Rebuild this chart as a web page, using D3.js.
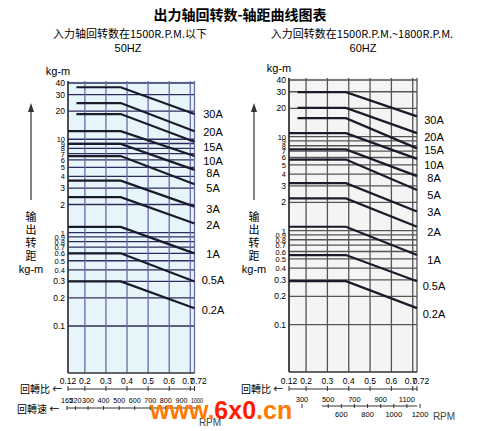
<!DOCTYPE html>
<html>
<head>
<meta charset="UTF-8" />
<script src="https://cdn.jsdelivr.net/npm/d3@7"></script>
<style>
  body { margin: 0; background: #fff; }
  text { font-family: "Liberation Sans", Arial, sans-serif; }
  .cjk { font-family: "Noto Sans CJK SC", sans-serif; }
</style>
</head>
<body>
<svg id="chart" width="480" height="431"></svg>
<script>
// data
const models = ["30A", "20A", "15A", "10A", "8A", "5A", "3A", "2A", "1A", "0.5A", "0.2A"];
const startRatio = [0.16, 0.16, 0.16, 0.12, 0.12, 0.12, 0.12, 0.12, 0.12, 0.12, 0.12];
const flat50 = [36, 24.4, 18.6, 12.2, 8.9, 6.6, 3.6, 2.4, 1.15, 0.6, 0.3];
const end50 = [18.6, 12.2, 9.4, 6.6, 4.7, 3.3, 1.9, 1.25, 0.6, 0.3, 0.155];
const flat60 = [29.7, 20.2, 15.7, 10.9, 7.3, 5.7, 3.2, 2.2, 1.1, 0.55, 0.29];
const end60 = [16.4, 10.9, 7.5, 5.8, 3.8, 2.7, 1.6, 1.1, 0.55, 0.29, 0.15];
const yTicks = [40, 30, 20, 10, 9, 8, 7, 6, 5, 4, 3, 2, 1, 0.9, 0.8, 0.7, 0.6, 0.5, 0.4, 0.3, 0.2, 0.1];
const ratioTicks = [0.12, 0.2, 0.3, 0.4, 0.5, 0.6, 0.7, 0.72];
const rpm50 = [165, 220, 300, 400, 500, 600, 700, 800, 900, 1000];
const rpm60Top = [300, 500, 700, 900, 1100];
const rpm60Bottom = [600, 800, 1000, 1200];

const svg = d3.select("#chart");

svg.append("text").attr("class", "cjk").attr("x", 240).attr("y", 20)
  .attr("text-anchor", "middle").attr("font-size", 14).attr("font-weight", "bold")
  .text("出力轴回转数-轴距曲线图表");

function panel(opt) {
  const x = d3.scaleLinear().domain([0.12, 0.72]).range([opt.x0, opt.x1]);
  const y = d3.scaleLog().domain([0.0314, 40]).range([opt.yb, opt.yt]);
  const g = svg.append("g");
  g.append("rect").attr("x", opt.x0).attr("y", opt.yt - 2)
    .attr("width", opt.x1 - opt.x0).attr("height", opt.yb - opt.yt + 2)
    .attr("fill", opt.bg);
  g.selectAll(".h").data(yTicks).enter().append("line")
    .attr("x1", opt.x0).attr("x2", opt.x1)
    .attr("y1", d => y(d)).attr("y2", d => y(d))
    .attr("stroke", opt.hgrid).attr("stroke-width", 1.3);
  g.selectAll(".v").data(ratioTicks).enter().append("line")
    .attr("x1", d => x(d)).attr("x2", d => x(d))
    .attr("y1", opt.yt - 2).attr("y2", opt.yb)
    .attr("stroke", opt.vgrid).attr("stroke-width", 1.3);
  g.append("line").attr("x1", opt.x0).attr("x2", opt.x1).attr("y1", opt.yb).attr("y2", opt.yb)
    .attr("stroke", "#333").attr("stroke-width", 1.5);
  g.append("line").attr("x1", opt.x0).attr("x2", opt.x0).attr("y1", opt.yt - 2).attr("y2", opt.yb)
    .attr("stroke", "#333").attr("stroke-width", 1.5);
  // y tick labels
  const big = [40, 30, 20, 3, 2, 0.3, 0.2, 0.1];
  g.selectAll(".yl").data(yTicks).enter().append("text")
    .attr("x", opt.x0 - 3).attr("y", d => y(d) + 3)
    .attr("text-anchor", "end").attr("font-size", d => big.includes(d) ? 8.5 : 7.5)
    .text(d => d);
  g.append("text").attr("x", opt.x0 - 10).attr("y", opt.yt - 8).attr("text-anchor", "middle")
    .attr("font-size", 11).text("kg-m");
  // curves
  const line = d3.line().x(d => x(d[0])).y(d => y(d[1]));
  models.forEach((m, i) => {
    const pts = [[startRatio[i], opt.flat[i]], [opt.brk, opt.flat[i]], [0.72, opt.end[i]]];
    g.append("path").attr("d", line(pts)).attr("fill", "none")
      .attr("stroke", "#1a1a2a").attr("stroke-width", 2.2);
    g.append("text").attr("x", opt.lx).attr("y", opt.ly[i] + 4)
      .attr("font-size", 11).attr("text-anchor", "middle").text(m);
  });
  // side label
  g.append("line").attr("x1", opt.ax).attr("x2", opt.ax).attr("y1", 200).attr("y2", 108)
    .attr("stroke", "#333").attr("stroke-width", 1.2);
  g.append("path").attr("d", `M${opt.ax - 3},112 L${opt.ax},103 L${opt.ax + 3},112 Z`).attr("fill", "#333");
  ["输", "出", "转", "距"].forEach((c, i) => {
    g.append("text").attr("class", "cjk").attr("x", opt.ax).attr("y", 221 + i * 13)
      .attr("text-anchor", "middle").attr("font-size", 11).text(c);
  });
  g.append("text").attr("x", opt.ax).attr("y", 273).attr("text-anchor", "middle")
    .attr("font-size", 11).text("kg-m");
  // ratio axis
  g.selectAll(".rl").data(ratioTicks).enter().append("text")
    .attr("x", d => x(d) + (d === 0.72 ? 4 : d === 0.7 ? -2 : 0)).attr("y", 384)
    .attr("text-anchor", "middle").attr("font-size", 8.5)
    .text(d => d);
  g.append("line").attr("x1", opt.x0).attr("x2", opt.x1).attr("y1", 389).attr("y2", 389)
    .attr("stroke", "#333");
  g.selectAll(".rt").data(ratioTicks).enter().append("line")
    .attr("x1", d => x(d)).attr("x2", d => x(d)).attr("y1", 386).attr("y2", 391).attr("stroke", "#333");
  g.append("text").attr("class", "cjk").attr("x", opt.x0 - 48).attr("y", 393)
    .attr("font-size", 10).text("回轉比 ←");
  return g;
}

// left 50Hz
svg.append("text").attr("class", "cjk").attr("x", 130).attr("y", 38).attr("text-anchor", "middle")
  .attr("font-size", 11).text("入力轴回转数在1500R.P.M.以下");
svg.append("text").attr("x", 128).attr("y", 52).attr("text-anchor", "middle")
  .attr("font-size", 11).text("50HZ");
panel({ x0: 68, x1: 194.5, yt: 83, yb: 373, bg: "#e6f5fa", hgrid: "#2c2c5c", vgrid: "#6a6aa8",
  brk: 0.37, flat: flat50, end: end50, lx: 213, ax: 31,
  ly: [114, 132, 147, 161, 173, 188, 209, 225, 254, 280, 310] });
const rl = d3.scaleLinear().domain([165, 1000]).range([67, 197]);
svg.selectAll(".r50").data(rpm50).enter().append("text")
  .attr("x", d => rl(d)).attr("y", 403).attr("text-anchor", "middle").attr("font-size", 6.3)
  .attr("textLength", 12).attr("lengthAdjust", "spacingAndGlyphs")
  .text(d => d);
svg.append("line").attr("x1", 67).attr("x2", 197).attr("y1", 408).attr("y2", 408).attr("stroke", "#333");
svg.selectAll(".r50t").data(rpm50).enter().append("line")
  .attr("x1", d => rl(d)).attr("x2", d => rl(d)).attr("y1", 406).attr("y2", 410).attr("stroke", "#333");
svg.append("text").attr("class", "cjk").attr("x", 17).attr("y", 413).attr("font-size", 10).text("回轉速 ←");
svg.append("text").attr("x", 210).attr("y", 426).attr("text-anchor", "middle").attr("font-size", 10)
  .attr("fill", "#444").text("RPM");

// right 60Hz
svg.append("text").attr("class", "cjk").attr("x", 362).attr("y", 38).attr("text-anchor", "middle")
  .attr("font-size", 11).text("入力回转数在1500R.P.M.~1800R.P.M.");
svg.append("text").attr("x", 363).attr("y", 52).attr("text-anchor", "middle")
  .attr("font-size", 11).text("60HZ");
panel({ x0: 289, x1: 417, yt: 80, yb: 372, bg: "#f4f4f4", hgrid: "#555", vgrid: "#555",
  brk: 0.387, flat: flat60, end: end60, lx: 434, ax: 254,
  ly: [120, 137, 150, 165, 178, 195, 212, 232, 260, 286, 314] });
const rr = d3.scaleLinear().domain([300, 1200]).range([302, 420]);
svg.selectAll(".r60a").data(rpm60Top).enter().append("text")
  .attr("x", d => rr(d)).attr("y", 402).attr("text-anchor", "middle").attr("font-size", 7.5).text(d => d);
svg.selectAll(".r60b").data(rpm60Bottom).enter().append("text")
  .attr("x", d => rr(d)).attr("y", 417).attr("text-anchor", "middle").attr("font-size", 7.5).text(d => d);
svg.append("line").attr("x1", 322).attr("x2", 417).attr("y1", 406).attr("y2", 406).attr("stroke", "#333");
svg.selectAll(".r60t").data(rpm60Top.concat(rpm60Bottom)).enter().append("line")
  .attr("x1", d => rr(d)).attr("x2", d => rr(d)).attr("y1", 404).attr("y2", 408).attr("stroke", "#333");
svg.append("text").attr("x", 444).attr("y", 420).attr("text-anchor", "middle").attr("font-size", 10)
  .attr("fill", "#444").text("RPM");

// watermark
const wm = svg.append("text").attr("x", 150).attr("y", 419).attr("font-size", 25)
  .attr("font-weight", "bold").attr("font-family", "Liberation Sans, Arial");
wm.append("tspan").attr("fill", "#ff7a00").text("www.");
wm.append("tspan").attr("fill", "#ff1a00").text("6x0");
wm.append("tspan").attr("fill", "#ff7a00").text(".cn");
</script>
</body>
</html>
